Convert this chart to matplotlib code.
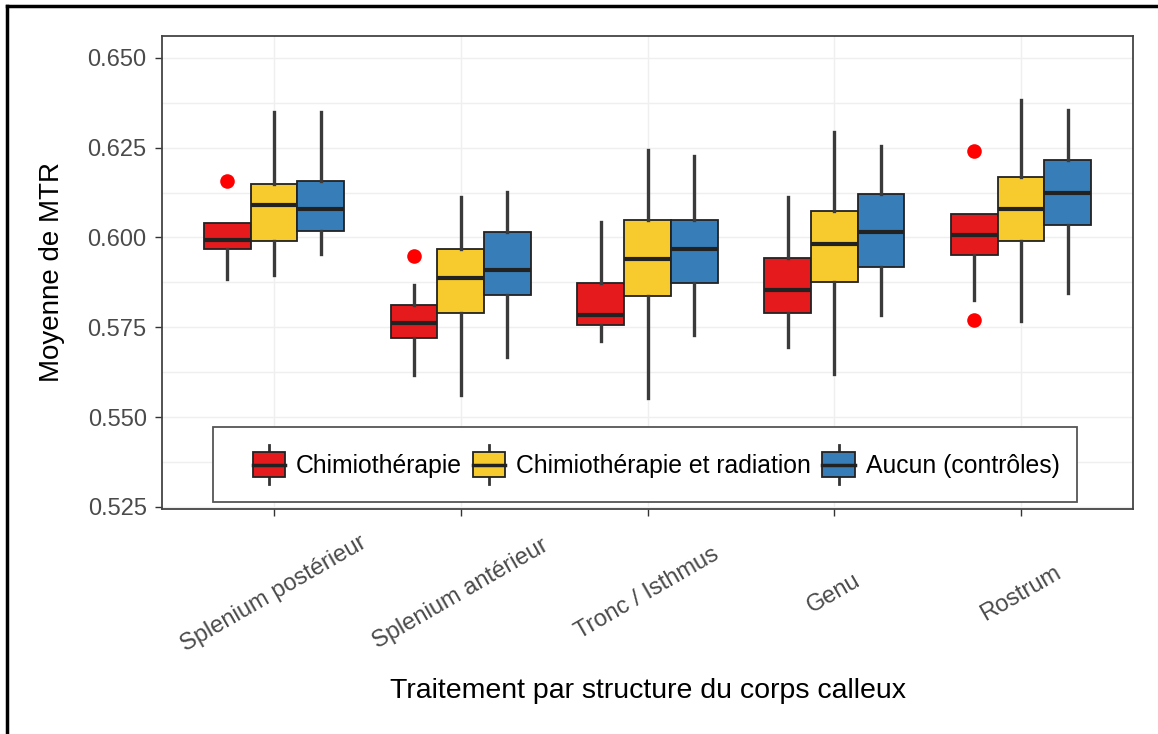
import matplotlib
matplotlib.use("Agg")
import matplotlib.pyplot as plt
from matplotlib.lines import Line2D
from matplotlib.patches import Rectangle, Patch
from matplotlib.legend_handler import HandlerBase

plt.rcParams['font.family'] = ['Liberation Sans', 'DejaVu Sans']

structures = ["Splenium postérieur", "Splenium antérieur", "Tronc / Isthmus", "Genu", "Rostrum"]
groups = ["Chimiothérapie", "Chimiothérapie et radiation", "Aucun (contrôles)"]
colors = ["#E41A1C", "#F7CB2D", "#377EB8"]

# box statistics per group, one value per structure
chimio_lo = [0.5884, 0.5617, 0.5712, 0.5695, 0.5825]
chimio_q1 = [0.5969, 0.5720, 0.5755, 0.5790, 0.5952]
chimio_med = [0.5993, 0.5762, 0.5783, 0.5853, 0.6007]
chimio_q3 = [0.6039, 0.5813, 0.5874, 0.5942, 0.6066]
chimio_hi = [0.6039, 0.5867, 0.6042, 0.6114, 0.6066]
chimio_out = [[0.6157], [0.5949], [], [], [0.6241, 0.5769]]

radio_lo = [0.5895, 0.5561, 0.5552, 0.5620, 0.5767]
radio_q1 = [0.5991, 0.5790, 0.5837, 0.5877, 0.5991]
radio_med = [0.6091, 0.5888, 0.5941, 0.5983, 0.6080]
radio_q3 = [0.6148, 0.5967, 0.6050, 0.6073, 0.6168]
radio_hi = [0.6350, 0.6112, 0.6243, 0.6294, 0.6383]
radio_out = [[], [], [], [], []]

ctrl_lo = [0.5953, 0.5666, 0.5729, 0.5785, 0.5846]
ctrl_q1 = [0.6019, 0.5841, 0.5872, 0.5919, 0.6035]
ctrl_med = [0.6080, 0.5909, 0.5967, 0.6016, 0.6123]
ctrl_q3 = [0.6157, 0.6014, 0.6050, 0.6120, 0.6217]
ctrl_hi = [0.6350, 0.6126, 0.6226, 0.6255, 0.6355]
ctrl_out = [[], [], [], [], []]

yticks = [0.525, 0.550, 0.575, 0.600, 0.625, 0.650]

series = [
    (chimio_lo, chimio_q1, chimio_med, chimio_q3, chimio_hi, chimio_out),
    (radio_lo, radio_q1, radio_med, radio_q3, radio_hi, radio_out),
    (ctrl_lo, ctrl_q1, ctrl_med, ctrl_q3, ctrl_hi, ctrl_out),
]


class BoxKey(HandlerBase):
    # small boxplot glyph for the legend
    def create_artists(self, legend, orig_handle, xdescent, ydescent, width, height, fontsize, trans):
        x0, y0 = -xdescent, -ydescent
        fc = orig_handle.get_facecolor()
        cx = x0 + width / 2
        wlo = Line2D([cx, cx], [y0 - 0.15 * height, y0 + 0.1 * height], color="#333333", lw=2, transform=trans)
        whi = Line2D([cx, cx], [y0 + 0.9 * height, y0 + 1.15 * height], color="#333333", lw=2, transform=trans)
        box = Rectangle((x0, y0 + 0.1 * height), width, 0.8 * height, facecolor=fc,
                        edgecolor="#222222", lw=1.3, transform=trans)
        med = Line2D([x0, x0 + width], [y0 + 0.5 * height] * 2, color="#222222", lw=2.5, transform=trans)
        return [wlo, whi, box, med]


fig = plt.figure(figsize=(11.58, 7.34), dpi=100)
ax = fig.add_axes([162 / 1158, 1 - 509 / 734, 971 / 1158, 473 / 734])

x = list(range(1, len(structures) + 1))
width = 0.25
offsets = [-0.25, 0.0, 0.25]

for (lo, q1, med, q3, hi, out), off, col in zip(series, offsets, colors):
    stats = []
    for i in range(len(structures)):
        stats.append(dict(whislo=lo[i], q1=q1[i], med=med[i], q3=q3[i], whishi=hi[i], fliers=out[i]))
    ax.bxp(stats, positions=[p + off for p in x], widths=width, patch_artist=True,
           showcaps=False, manage_ticks=False,
           boxprops=dict(facecolor=col, edgecolor="#222222", linewidth=1.3),
           medianprops=dict(color="#222222", linewidth=3),
           whiskerprops=dict(color="#3a3a3a", linewidth=2.4),
           flierprops=dict(marker="o", markerfacecolor="#FF0000", markeredgecolor="none",
                           markersize=10.5))

ax.set_xlim(0.4, 5.6)
ax.set_ylim(0.5244, 0.6561)
ax.set_yticks(yticks)
ax.set_yticklabels([f"{v:.3f}" for v in yticks])
ax.set_yticks([0.5375, 0.5625, 0.5875, 0.6125, 0.6375], minor=True)
ax.set_xticks(x)
ax.set_xticklabels(structures, rotation=30, ha="center", va="center", rotation_mode="anchor")

ax.grid(True, which="both", color="#EFEFEF", lw=1)
ax.set_axisbelow(True)
ax.tick_params(axis="y", which="minor", length=0)
ax.tick_params(axis="both", which="major", colors="#333333", labelcolor="#4a4a4a",
               labelsize=17, length=5, width=1)
ax.tick_params(axis="y", pad=6)
ax.tick_params(axis="x", pad=56, labelsize=17)
for s in ax.spines.values():
    s.set_color("#444444")
    s.set_linewidth(1.3)

ax.set_ylabel("Moyenne de MTR", fontsize=20)
ax.yaxis.set_label_coords(-0.1, 0.5)
ax.set_xlabel("Traitement par structure du corps calleux", fontsize=20.5)
ax.xaxis.set_label_coords(0.5, -0.358)

# legend inside the panel, framed box drawn separately
frame = Rectangle((0.0525, 0.0148), 0.8897, 0.158, transform=ax.transAxes, facecolor="white",
                  edgecolor="#555555", lw=1.3, zorder=4)
ax.add_patch(frame)
handles = [Patch(facecolor=c) for c in colors]
leg = ax.legend(handles, groups, handler_map={Patch: BoxKey()}, ncol=3, loc="center",
                bbox_to_anchor=(0.509, 0.094), frameon=False, fontsize=17.8,
                handlelength=1.3, handleheight=1.5, handletextpad=0.45, columnspacing=0.45)
leg.set_zorder(5)

# outer frame lines
fig.add_artist(Line2D([7 / 1158, 7 / 1158], [0, 1 - 6 / 734], color="black", lw=2.5))
fig.add_artist(Line2D([7 / 1158, 1], [1 - 6 / 734, 1 - 6 / 734], color="black", lw=2.5))

fig.savefig("out.png", dpi=100)
